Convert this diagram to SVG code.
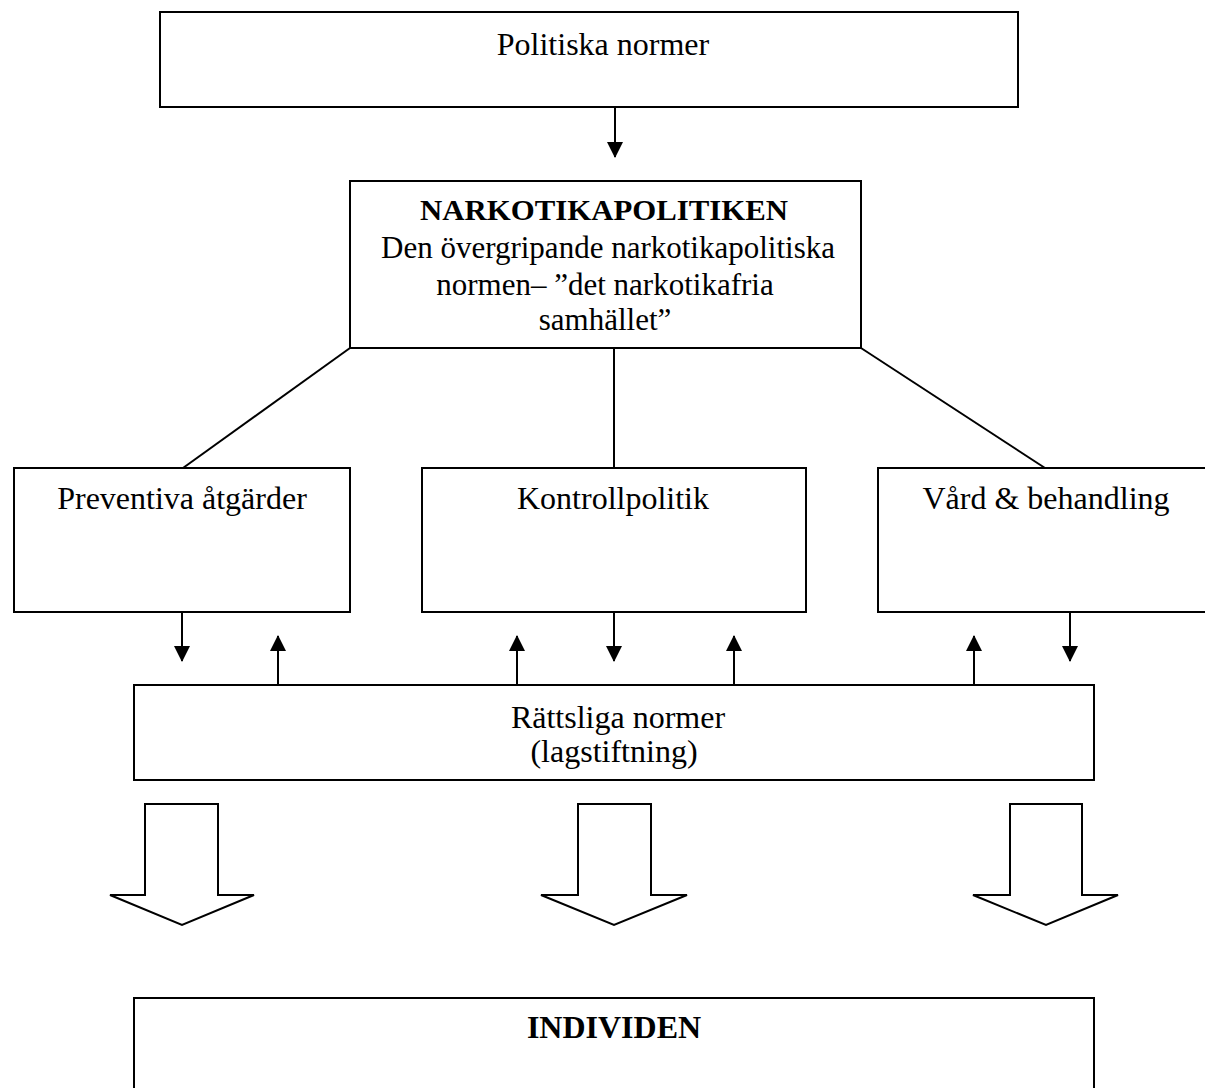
<svg xmlns="http://www.w3.org/2000/svg" width="1205" height="1088" viewBox="0 0 1205 1088">
<style>
.box{fill:#fff;stroke:#000;stroke-width:2}
.t{font-family:"Liberation Serif","Times New Roman",serif;font-size:32px;fill:#000;text-anchor:middle}
.b{font-weight:bold}
.s30{font-size:30px}
.s31{font-size:31px}
.ln{stroke:#000;stroke-width:2;fill:none}
.blk{fill:#fff;stroke:#000;stroke-width:2;stroke-linejoin:miter}
</style>
<defs>
<marker id="ah" markerUnits="userSpaceOnUse" markerWidth="16" markerHeight="16" viewBox="0 0 16 16" refX="15" refY="8" orient="auto">
<path d="M0,0 L16,8 L0,16 Z" fill="#000"/>
</marker>
</defs>
<rect width="1205" height="1088" fill="#fff"/>
<g id="connectors">
<line class="ln" x1="615" y1="107" x2="615" y2="157" marker-end="url(#ah)"/>
<line class="ln" x1="350" y1="348" x2="183" y2="468"/>
<line class="ln" x1="614" y1="348" x2="614" y2="468"/>
<line class="ln" x1="861" y1="348" x2="1045" y2="468"/>
<line class="ln" x1="182" y1="612" x2="182" y2="661" marker-end="url(#ah)"/>
<line class="ln" x1="278" y1="685" x2="278" y2="636" marker-end="url(#ah)"/>
<line class="ln" x1="517" y1="685" x2="517" y2="636" marker-end="url(#ah)"/>
<line class="ln" x1="614" y1="612" x2="614" y2="661" marker-end="url(#ah)"/>
<line class="ln" x1="734" y1="685" x2="734" y2="636" marker-end="url(#ah)"/>
<line class="ln" x1="974" y1="685" x2="974" y2="636" marker-end="url(#ah)"/>
<line class="ln" x1="1070" y1="612" x2="1070" y2="661" marker-end="url(#ah)"/>
<polygon class="blk" points="145,804 218,804 218,895 254,895 182,925 110,895 145,895"/>
<polygon class="blk" points="578,804 651,804 651,895 687,895 614,925 541,895 578,895"/>
<polygon class="blk" points="1010,804 1082,804 1082,895 1118,895 1046,925 973,895 1010,895"/>
</g>
<g id="politiska">
<rect class="box" x="160" y="12" width="858" height="95"/>
<text class="t" x="603" y="55">Politiska normer</text>
</g>
<g id="narkotikapolitiken">
<rect class="box" x="350" y="181" width="511" height="167"/>
<text class="t b s30" x="604" y="220" textLength="368" lengthAdjust="spacingAndGlyphs">NARKOTIKAPOLITIKEN</text>
<text class="t s31" x="608" y="258">Den övergripande narkotikapolitiska</text>
<text class="t s31" x="605" y="295">normen– ”det narkotikafria</text>
<text class="t s31" x="605" y="330">samhället”</text>
</g>
<g id="preventiva">
<rect class="box" x="14" y="468" width="336" height="144"/>
<text class="t" x="182" y="509">Preventiva åtgärder</text>
</g>
<g id="kontroll">
<rect class="box" x="422" y="468" width="384" height="144"/>
<text class="t" x="613" y="509">Kontrollpolitik</text>
</g>
<g id="vard">
<rect class="box" x="878" y="468" width="340" height="144"/>
<text class="t" x="1046" y="509">Vård &amp; behandling</text>
</g>
<g id="rattsliga">
<rect class="box" x="134" y="685" width="960" height="95"/>
<text class="t" x="618" y="728">Rättsliga normer</text>
<text class="t" x="614" y="762">(lagstiftning)</text>
</g>
<g id="individen">
<rect class="box" x="134" y="998" width="960" height="110"/>
<text class="t b" x="614" y="1038">INDIVIDEN</text>
</g>
</svg>
